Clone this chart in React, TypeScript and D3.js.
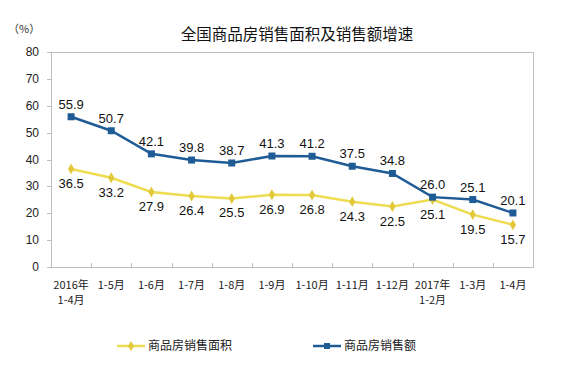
import { useEffect, useRef } from "react";
import * as d3 from "d3";

const CATEGORIES = [
  "2016年\n1-4月",
  "1-5月",
  "1-6月",
  "1-7月",
  "1-8月",
  "1-9月",
  "1-10月",
  "1-11月",
  "1-12月",
  "2017年\n1-2月",
  "1-3月",
  "1-4月",
];
const AREA = [36.5, 33.2, 27.9, 26.4, 25.5, 26.9, 26.8, 24.3, 22.5, 25.1, 19.5, 15.7];
const AMOUNT = [55.9, 50.7, 42.1, 39.8, 38.7, 41.3, 41.2, 37.5, 34.8, 26.0, 25.1, 20.1];
const Y_TICKS = [0, 10, 20, 30, 40, 50, 60, 70, 80];

const TITLE = "全国商品房销售面积及销售额增速";
const AREA_NAME = "商品房销售面积";
const AMOUNT_NAME = "商品房销售额";

const YELLOW = "#EEDC52";
const YELLOW_MARK = "#E2C83A";
const BLUE = "#1F5C96";
const GRID = "#BFBFBF";
const CJK = "'Noto Sans CJK SC', sans-serif";
const NUM = "'Liberation Sans', Arial, sans-serif";

export default function App() {
  const svgRef = useRef<SVGSVGElement>(null);

  useEffect(() => {
    if (!svgRef.current) return;
    const width = 574;
    const height = 369;
    const margin = { top: 52, right: 41, bottom: 102, left: 51 };
    const innerW = width - margin.left - margin.right;
    const innerH = height - margin.top - margin.bottom;

    const svg = d3.select(svgRef.current);
    svg.selectAll("*").remove();
    svg.attr("width", width).attr("height", height);

    svg
      .append("rect")
      .attr("width", width)
      .attr("height", height)
      .attr("fill", "#fff");

    // title
    svg
      .append("text")
      .attr("x", 297)
      .attr("y", 40)
      .attr("text-anchor", "middle")
      .attr("font-family", CJK)
      .attr("font-size", "15.5px")
      .attr("fill", "#111")
      .text(TITLE);

    svg
      .append("text")
      .attr("x", 8)
      .attr("y", 33)
      .attr("font-family", CJK)
      .attr("font-size", "11px")
      .attr("fill", "#333")
      .text("（%）");

    const g = svg
      .append("g")
      .attr("transform", `translate(${margin.left},${margin.top})`);

    const x = d3
      .scaleBand<string>()
      .domain(CATEGORIES)
      .range([0, innerW]);
    const y = d3.scaleLinear().domain([0, 80]).range([innerH, 0]);
    const cx = (i: number) => x(CATEGORIES[i])! + x.bandwidth() / 2;

    // plot border
    g.append("rect")
      .attr("x", 0.5)
      .attr("y", 0.5)
      .attr("width", innerW)
      .attr("height", innerH)
      .attr("fill", "none")
      .attr("stroke", GRID);

    // y ticks
    Y_TICKS.forEach((t) => {
      g.append("line")
        .attr("x1", -4)
        .attr("x2", 0)
        .attr("y1", Math.round(y(t)) + 0.5)
        .attr("y2", Math.round(y(t)) + 0.5)
        .attr("stroke", GRID);
      g.append("text")
        .attr("x", -12)
        .attr("y", y(t) + 4)
        .attr("text-anchor", "end")
        .attr("font-family", NUM)
        .attr("font-size", "12px")
        .attr("fill", "#222")
        .text(t);
    });

    // x ticks (inside, at band boundaries)
    CATEGORIES.slice(1).forEach((c) => {
      const xx = Math.round(x(c)!) + 0.5;
      g.append("line")
        .attr("x1", xx)
        .attr("x2", xx)
        .attr("y1", innerH - 4)
        .attr("y2", innerH)
        .attr("stroke", GRID);
    });

    // x labels
    CATEGORIES.forEach((c, i) => {
      const lines = c.split("\n");
      const t = g
        .append("text")
        .attr("text-anchor", "middle")
        .attr("font-family", CJK)
        .attr("font-size", "11px")
        .attr("fill", "#222");
      lines.forEach((ln, k) => {
        t.append("tspan")
          .attr("x", cx(i))
          .attr("y", innerH + 22 + k * 15)
          .text(ln);
      });
    });

    const line = d3
      .line<number>()
      .x((_, i) => cx(i))
      .y((d) => y(d));

    // area series (yellow)
    g.append("path")
      .datum(AREA)
      .attr("d", line)
      .attr("fill", "none")
      .attr("stroke", YELLOW)
      .attr("stroke-width", 2.5);
    AREA.forEach((v, i) => {
      g.append("path")
        .attr("d", d3.symbol(d3.symbolDiamond, 34)())
        .attr("transform", `translate(${cx(i)},${y(v)})`)
        .attr("fill", YELLOW_MARK);
      g.append("text")
        .attr("x", cx(i))
        .attr("y", y(v) + 19)
        .attr("text-anchor", "middle")
        .attr("font-family", NUM)
        .attr("font-size", "13px")
        .attr("fill", "#111")
        .text(v.toFixed(1));
    });

    // amount series (blue)
    g.append("path")
      .datum(AMOUNT)
      .attr("d", line)
      .attr("fill", "none")
      .attr("stroke", BLUE)
      .attr("stroke-width", 2.5);
    AMOUNT.forEach((v, i) => {
      g.append("rect")
        .attr("x", cx(i) - 3.5)
        .attr("y", y(v) - 3.5)
        .attr("width", 7)
        .attr("height", 7)
        .attr("fill", BLUE);
      g.append("text")
        .attr("x", cx(i))
        .attr("y", y(v) - 8)
        .attr("text-anchor", "middle")
        .attr("font-family", NUM)
        .attr("font-size", "13px")
        .attr("fill", "#111")
        .text(v.toFixed(1));
    });

    // legend
    const legend = svg.append("g").attr("transform", "translate(0,346)");
    const items = [
      { name: AREA_NAME, x0: 117, color: YELLOW, mark: "diamond" },
      { name: AMOUNT_NAME, x0: 313, color: BLUE, mark: "square" },
    ];
    items.forEach((it) => {
      legend
        .append("line")
        .attr("x1", it.x0)
        .attr("x2", it.x0 + 28)
        .attr("y1", 0)
        .attr("y2", 0)
        .attr("stroke", it.color)
        .attr("stroke-width", 2.5);
      if (it.mark === "diamond") {
        legend
          .append("path")
          .attr("d", d3.symbol(d3.symbolDiamond, 30)())
          .attr("transform", `translate(${it.x0 + 14},0)`)
          .attr("fill", YELLOW_MARK);
      } else {
        legend
          .append("rect")
          .attr("x", it.x0 + 11)
          .attr("y", -3)
          .attr("width", 6)
          .attr("height", 6)
          .attr("fill", BLUE);
      }
      legend
        .append("text")
        .attr("x", it.x0 + 31)
        .attr("y", 4)
        .attr("font-family", CJK)
        .attr("font-size", "12px")
        .attr("fill", "#222")
        .text(it.name);
    });
  }, []);

  return (
    <div style={{ margin: -8 }}>
      <svg ref={svgRef} style={{ display: "block" }} />
    </div>
  );
}
